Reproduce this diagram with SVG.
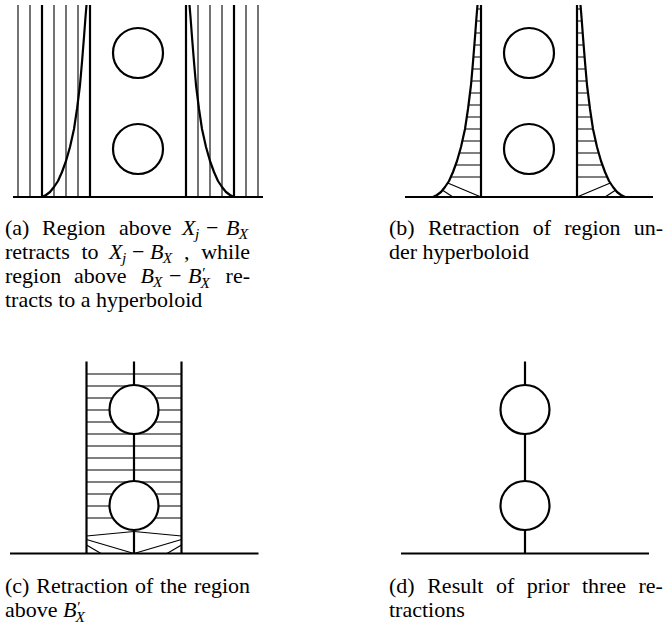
<svg xmlns="http://www.w3.org/2000/svg" xmlns:xlink="http://www.w3.org/1999/xlink" width="665" height="634" viewBox="0 0 665 634">
<style>
.thick{stroke:#000;stroke-width:2.2;fill:none;stroke-linejoin:round}
.thin{stroke:#000;stroke-width:1.1;fill:none}
.hatch{stroke:#000;stroke-width:1.2;fill:none}
.circ{fill:#fff;stroke:#000;stroke-width:2.2}
text{font-family:"Liberation Serif","Times New Roman",serif;font-size:22px;fill:#000}
.m{font-style:italic}
.sub{font-size:15.4px}
</style>
<defs>
<path id="curveL" d="M42,197 L46,195 L50,192 L54,187 L58,181 L62,172 L66,161 L70,147 L74,129 L77,109 L80,85 L82,62 L84,37 L85.5,17 L86.5,5"/>
<path id="curveR" d="M234,197 L230,195 L226,192 L222,187 L218,181 L214,172 L210,161 L206,147 L202,129 L199,109 L196,85 L194,62 L192,37 L190.5,17 L189.5,5"/>
<clipPath id="clipL" clipPathUnits="userSpaceOnUse"><path d="M42,197 L46,195 L50,192 L54,187 L58,181 L62,172 L66,161 L70,147 L74,129 L77,109 L80,85 L82,62 L84,37 L85.5,17 L86.5,5 L90,5 L90,197 Z"/></clipPath>
<clipPath id="clipR" clipPathUnits="userSpaceOnUse"><path d="M234,197 L230,195 L226,192 L222,187 L218,181 L214,172 L210,161 L206,147 L202,129 L199,109 L196,85 L194,62 L192,37 L190.5,17 L189.5,5 L186,5 L186,197 Z"/></clipPath>
</defs>

<g id="panel-a">
  <g class="thin">
    <line x1="18" y1="5" x2="18" y2="197"/><line x1="30" y1="5" x2="30" y2="197"/>
    <line x1="54" y1="5" x2="54" y2="197"/><line x1="66" y1="5" x2="66" y2="197"/>
    <line x1="78" y1="5" x2="78" y2="197"/>
    <line x1="198" y1="5" x2="198" y2="197"/><line x1="210" y1="5" x2="210" y2="197"/>
    <line x1="222" y1="5" x2="222" y2="197"/><line x1="246" y1="5" x2="246" y2="197"/>
    <line x1="258" y1="5" x2="258" y2="197"/>
  </g>
  <g class="thick">
    <line x1="42" y1="5" x2="42" y2="197"/><line x1="90" y1="5" x2="90" y2="197"/>
    <line x1="186" y1="5" x2="186" y2="197"/><line x1="234" y1="5" x2="234" y2="197"/>
    <use xlink:href="#curveL"/><use xlink:href="#curveR"/>
    <line x1="13" y1="197" x2="263" y2="197"/>
  </g>
  <circle class="circ" cx="138" cy="53" r="25"/>
  <circle class="circ" cx="138" cy="149" r="25"/>
</g>

<g id="panel-b" transform="translate(391,0)">
  <g class="hatch" clip-path="url(#clipL)">
    <line x1="30" y1="9" x2="90" y2="9"/><line x1="30" y1="21" x2="90" y2="21"/><line x1="30" y1="33" x2="90" y2="33"/>
    <line x1="30" y1="45" x2="90" y2="45"/><line x1="30" y1="57" x2="90" y2="57"/><line x1="30" y1="69" x2="90" y2="69"/>
    <line x1="30" y1="81" x2="90" y2="81"/><line x1="30" y1="93" x2="90" y2="93"/><line x1="30" y1="105" x2="90" y2="105"/>
    <line x1="30" y1="117" x2="90" y2="117"/><line x1="30" y1="129" x2="90" y2="129"/><line x1="30" y1="141" x2="90" y2="141"/>
    <line x1="30" y1="153" x2="90" y2="153"/><line x1="30" y1="165" x2="90" y2="165"/><line x1="30" y1="177" x2="90" y2="177"/>
  </g>
  <g class="hatch" clip-path="url(#clipR)">
    <line x1="186" y1="9" x2="246" y2="9"/><line x1="186" y1="21" x2="246" y2="21"/><line x1="186" y1="33" x2="246" y2="33"/>
    <line x1="186" y1="45" x2="246" y2="45"/><line x1="186" y1="57" x2="246" y2="57"/><line x1="186" y1="69" x2="246" y2="69"/>
    <line x1="186" y1="81" x2="246" y2="81"/><line x1="186" y1="93" x2="246" y2="93"/><line x1="186" y1="105" x2="246" y2="105"/>
    <line x1="186" y1="117" x2="246" y2="117"/><line x1="186" y1="129" x2="246" y2="129"/><line x1="186" y1="141" x2="246" y2="141"/>
    <line x1="186" y1="153" x2="246" y2="153"/><line x1="186" y1="165" x2="246" y2="165"/><line x1="186" y1="177" x2="246" y2="177"/>
  </g>
  <g class="hatch">
    <line x1="56.7" y1="183" x2="90" y2="197"/><line x1="51.2" y1="190" x2="62" y2="197"/>
    <line x1="219.3" y1="183" x2="186" y2="197"/><line x1="224.8" y1="190" x2="214" y2="197"/>
  </g>
  <g class="thick">
    <line x1="90" y1="5" x2="90" y2="197"/><line x1="186" y1="5" x2="186" y2="197"/>
    <use xlink:href="#curveL"/><use xlink:href="#curveR"/>
    <line x1="14" y1="197" x2="262" y2="197"/>
  </g>
  <circle class="circ" cx="138" cy="53" r="25"/>
  <circle class="circ" cx="138" cy="149" r="25"/>
</g>

<g id="panel-c">
  <g class="hatch">
    <line x1="86.5" y1="374" x2="181.5" y2="374"/><line x1="86.5" y1="386" x2="181.5" y2="386"/>
    <line x1="86.5" y1="398" x2="181.5" y2="398"/><line x1="86.5" y1="410" x2="181.5" y2="410"/>
    <line x1="86.5" y1="422" x2="181.5" y2="422"/><line x1="86.5" y1="434" x2="181.5" y2="434"/>
    <line x1="86.5" y1="446" x2="181.5" y2="446"/><line x1="86.5" y1="458" x2="181.5" y2="458"/>
    <line x1="86.5" y1="470" x2="181.5" y2="470"/><line x1="86.5" y1="482" x2="181.5" y2="482"/>
    <line x1="86.5" y1="494" x2="181.5" y2="494"/><line x1="86.5" y1="506" x2="181.5" y2="506"/>
    <line x1="86.5" y1="518" x2="181.5" y2="518"/>
    <line x1="86.5" y1="536" x2="134" y2="531.5"/><line x1="86.5" y1="539.5" x2="134" y2="553.5"/><line x1="86.5" y1="545" x2="101" y2="553.5"/>
    <line x1="181.5" y1="536" x2="134" y2="531.5"/><line x1="181.5" y1="539.5" x2="134" y2="553.5"/><line x1="181.5" y1="545" x2="167" y2="553.5"/>
  </g>
  <g class="thick">
    <line x1="86.5" y1="361.5" x2="86.5" y2="553.5"/><line x1="181.5" y1="361.5" x2="181.5" y2="553.5"/>
    <line x1="134" y1="361.5" x2="134" y2="553.5"/>
    <line x1="10" y1="553.5" x2="258.5" y2="553.5"/>
  </g>
  <circle class="circ" cx="134" cy="409.5" r="24.5"/>
  <circle class="circ" cx="134" cy="505.5" r="24.5"/>
</g>

<g id="panel-d">
  <g class="thick">
    <line x1="525" y1="361.5" x2="525" y2="553.5"/>
    <line x1="401" y1="553.5" x2="649" y2="553.5"/>
  </g>
  <circle class="circ" cx="525" cy="409.5" r="24.5"/>
  <circle class="circ" cx="525" cy="505.5" r="24.5"/>
</g>

<g id="caption-a">
  <text x="5" y="235">(a)</text>
  <text x="42" y="235">Region</text>
  <text x="119" y="235">above</text>
  <text y="235"><tspan class="m" x="182">X</tspan><tspan class="m sub" x="195" y="238.5">j</tspan><tspan x="206" y="235">−</tspan><tspan class="m" x="226">B</tspan><tspan class="m sub" x="238.8" y="239">X</tspan></text>

  <text x="5" y="259">retracts</text>
  <text x="81.5" y="259">to</text>
  <text y="259"><tspan class="m" x="109">X</tspan><tspan class="m sub" x="122" y="262.5">j</tspan><tspan x="132" y="259">−</tspan><tspan class="m" x="150">B</tspan><tspan class="m sub" x="162.8" y="263">X</tspan></text>
  <text x="183.9" y="259">,</text>
  <text x="201.2" y="259">while</text>

  <text x="5" y="283">region</text>
  <text x="74" y="283">above</text>
  <text y="283"><tspan class="m" x="140.5">B</tspan><tspan class="m sub" x="153" y="287">X</tspan><tspan x="169" y="283">−</tspan><tspan class="m" x="188">B</tspan><tspan class="sub" x="202.2" y="278">′</tspan><tspan class="m sub" x="200.6" y="288">X</tspan></text>
  <text x="225.6" y="283">re-</text>

  <text x="5" y="307">tracts to a hyperboloid</text>
</g>

<g id="caption-b">
  <text x="389" y="235">(b)</text>
  <text x="427.9" y="235">Retraction</text>
  <text x="532.8" y="235">of</text>
  <text x="564.3" y="235">region</text>
  <text x="633.7" y="235">un-</text>
  <text x="389" y="259">der hyperboloid</text>
</g>

<g id="caption-c">
  <text x="5" y="592.5">(c)</text>
  <text x="36.3" y="592.5">Retraction</text>
  <text x="134.9" y="592.5">of</text>
  <text x="160.1" y="592.5">the</text>
  <text x="193.9" y="592.5">region</text>
  <text x="5" y="616.5">above</text>
  <text y="616.5"><tspan class="m" x="63">B</tspan><tspan class="sub" x="77.2" y="611.5">′</tspan><tspan class="m sub" x="75.6" y="621.5">X</tspan></text>
</g>

<g id="caption-d">
  <text x="389" y="592.5">(d)</text>
  <text x="427.2" y="592.5">Result</text>
  <text x="495.9" y="592.5">of</text>
  <text x="526.7" y="592.5">prior</text>
  <text x="582" y="592.5">three</text>
  <text x="638.5" y="592.5">re-</text>
  <text x="389" y="616.5">tractions</text>
</g>
</svg>
